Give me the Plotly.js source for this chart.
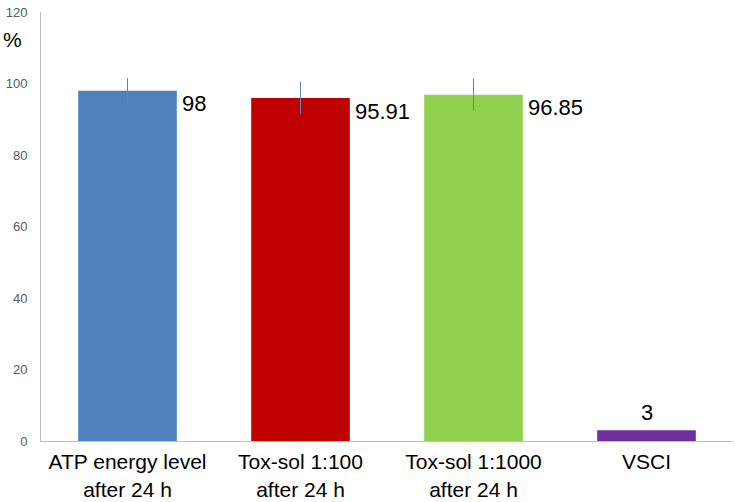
<!DOCTYPE html>
<html>
<head>
<meta charset="utf-8">
<script src="https://cdn.plot.ly/plotly-3.0.1.min.js"></script>
<style>html,body{margin:0;padding:0;background:#fff;}#chart{width:735px;height:502px;}</style>
</head>
<body>
<div id="chart"></div>
<script>
const categories = ["ATP energy level<br>after 24 h", "Tox-sol 1:100<br>after 24 h", "Tox-sol 1:1000<br>after 24 h", "VSCI"];
const values = [98, 95.91, 96.85, 3];
const valueLabels = ["98", "95.91", "96.85", "3"];
const errors = [3.5, 4.5, 4.5, 0];
const colors = ["#4F81BD", "#C00000", "#92D050", "#7030A0"];
const yTicks = [0, 20, 40, 60, 80, 100, 120];

const trace = {
  type: "bar",
  x: categories,
  y: values,
  marker: {color: colors},
  error_y: {type: "data", array: errors, visible: true, color: "#5A86C2", thickness: 1, width: 0},
  hoverinfo: "none"
};

const labelFont = {family: "Liberation Sans, Arial, sans-serif", size: 22, color: "#000"};
const annotations = categories.map((c, i) => {
  if (i === 3) {
    return {x: c, y: values[i], xref: "x", yref: "y", text: valueLabels[i], showarrow: false,
      xanchor: "center", yanchor: "middle", yshift: 18, font: labelFont};
  }
  return {x: c, y: values[i], xref: "x", yref: "y", text: valueLabels[i], showarrow: false,
    xanchor: "left", yanchor: "middle", xshift: 52, yshift: -13, font: labelFont};
});
annotations.push({x: -0.0405, y: 0.935, xref: "paper", yref: "paper", text: "%", showarrow: false,
  xanchor: "center", yanchor: "middle",
  font: {family: "Liberation Sans, Arial, sans-serif", size: 21, color: "#000"}});

const layout = {
  width: 735, height: 502,
  margin: {l: 41, r: 2, t: 12, b: 61},
  paper_bgcolor: "#fff", plot_bgcolor: "#fff",
  showlegend: false,
  bargap: 0.43,
  xaxis: {
    type: "category",
    showline: true, linecolor: "#BFBFBF", linewidth: 1,
    showgrid: false, zeroline: false, ticks: "",
    tickfont: {family: "Liberation Sans, Arial, sans-serif", size: 21, color: "#000"},
    ticklabelstandoff: 2
  },
  yaxis: {
    range: [0, 120],
    tickvals: yTicks, ticktext: yTicks.map(String),
    showline: true, linecolor: "#BFBFBF", linewidth: 1,
    showgrid: false, zeroline: false, ticks: "",
    tickfont: {family: "Liberation Sans, Arial, sans-serif", size: 13, color: "#595959"},
    ticklabelstandoff: 10
  },
  annotations: annotations
};

Plotly.newPlot("chart", [trace], layout, {displayModeBar: false, staticPlot: true});
</script>
</body>
</html>
